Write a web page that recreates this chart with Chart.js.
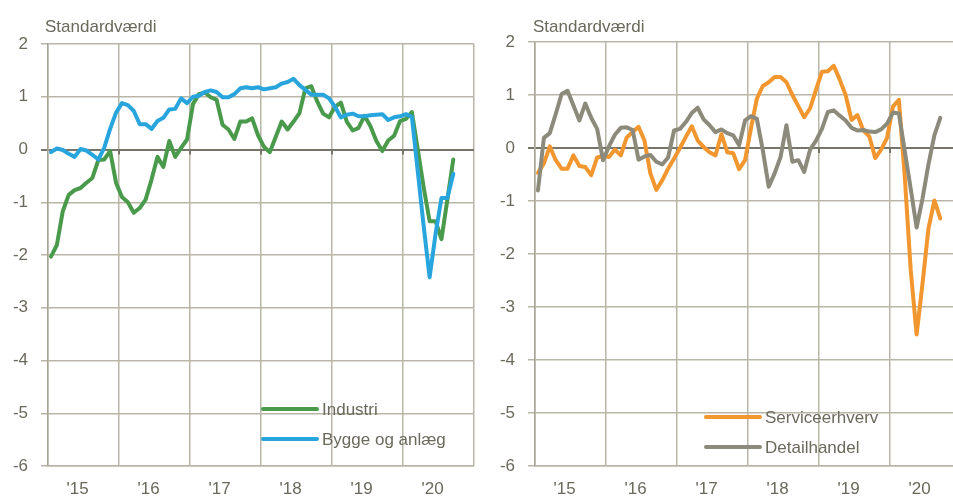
<!DOCTYPE html>
<html>
<head>
<meta charset="utf-8">
<script src="https://cdn.jsdelivr.net/npm/chart.js@4"></script>
<style>
  html, body { margin: 0; padding: 0; background: #fff; overflow: hidden; width: 953px; height: 501px; }
  #left { position: absolute; left: 0; top: 0; }
  #right { position: absolute; left: 487px; top: 0; }
</style>
</head>
<body>
<canvas id="left" width="476" height="501"></canvas>
<canvas id="right" width="490" height="501"></canvas>
<script>
// monthly categories, Sep 2014 onwards (72 slots, last 3 empty)
const startYear = 2014;
const startMonth = 9;
const months = [];
for (let i = 0; i < 72; i++) {
  const m = (startMonth - 1 + i) % 12 + 1;
  const y = startYear + Math.floor((startMonth - 1 + i) / 12);
  months.push(y + "-" + String(m).padStart(2, "0"));
}
const yearLabels = ["'15", "'16", "'17", "'18", "'19", "'20"];
const yTicks = [2, 1, 0, -1, -2, -3, -4, -5, -6];

const industri = [-2.03, -1.81, -1.17, -0.86, -0.77, -0.73, -0.63, -0.54, -0.2, -0.19, -0.03, -0.63,
  -0.9, -1.0, -1.2, -1.11, -0.95, -0.57, -0.14, -0.33, 0.16, -0.14, 0.03, 0.19,
  0.86, 1.05, 1.08, 0.99, 0.94, 0.47, 0.38, 0.2, 0.53, 0.53, 0.59, 0.27,
  0.05, -0.05, 0.24, 0.53, 0.38, 0.53, 0.69, 1.16, 1.2, 0.91, 0.68, 0.61,
  0.81, 0.89, 0.53, 0.36, 0.41, 0.64, 0.44, 0.16, -0.03, 0.17, 0.26, 0.54,
  0.58, 0.71, 0.0, -0.72, -1.36, -1.36, -1.7, -0.95, -0.19];

const byggeAnlaeg = [-0.05, 0.02, -0.01, -0.08, -0.14, 0.01, -0.02, -0.1, -0.19, 0.03, 0.39, 0.7,
  0.88, 0.84, 0.73, 0.48, 0.48, 0.39, 0.54, 0.6, 0.76, 0.77, 0.97, 0.88,
  1.0, 1.02, 1.09, 1.12, 1.09, 0.99, 0.99, 1.05, 1.16, 1.18, 1.16, 1.18,
  1.14, 1.16, 1.18, 1.25, 1.28, 1.34, 1.22, 1.13, 1.04, 1.04, 1.04, 0.97,
  0.81, 0.61, 0.66, 0.68, 0.63, 0.63, 0.65, 0.66, 0.67, 0.56, 0.61, 0.63,
  0.67, 0.62, -0.42, -1.46, -2.42, -1.6, -0.92, -0.92, -0.46];

const service = [-0.47, -0.29, 0.03, -0.23, -0.39, -0.39, -0.14, -0.34, -0.36, -0.51, -0.18, -0.15,
  -0.17, -0.03, -0.14, 0.2, 0.3, 0.4, 0.14, -0.48, -0.79, -0.61, -0.39, -0.2,
  0.0, 0.21, 0.41, 0.14, 0.02, -0.08, -0.14, 0.26, -0.08, -0.1, -0.4, -0.23,
  0.37, 0.93, 1.17, 1.24, 1.34, 1.34, 1.24, 1.0, 0.79, 0.58, 0.75, 1.1,
  1.44, 1.45, 1.55, 1.29, 1.0, 0.53, 0.62, 0.33, 0.22, -0.19, -0.03, 0.19,
  0.78, 0.91, -0.55, -2.3, -3.52, -2.55, -1.52, -0.99, -1.33];

const detail = [-0.8, 0.19, 0.28, 0.64, 1.02, 1.08, 0.8, 0.52, 0.84, 0.57, 0.36, -0.23,
  0.03, 0.25, 0.38, 0.39, 0.34, -0.22, -0.16, -0.13, -0.26, -0.31, -0.18, 0.33,
  0.36, 0.49, 0.66, 0.76, 0.54, 0.43, 0.3, 0.35, 0.28, 0.24, 0.05, 0.52,
  0.6, 0.55, -0.04, -0.73, -0.48, -0.17, 0.43, -0.26, -0.23, -0.45, -0.03, 0.14,
  0.36, 0.68, 0.71, 0.61, 0.52, 0.38, 0.33, 0.34, 0.31, 0.3, 0.35, 0.46,
  0.67, 0.65, -0.06, -0.77, -1.5, -0.95, -0.31, 0.24, 0.57];

const textColor = "#6b695c";
const gridColor = "#b9b6a7";
const zeroColor = "#77746a";
const fontFamily = "'Liberation Sans', Arial, sans-serif";

// title + legend drawn at fixed spots, like the original
const panelText = {
  id: "panelText",
  afterDraw(chart, args, opts) {
    const ctx = chart.ctx;
    ctx.save();
    ctx.font = "17px " + fontFamily;
    ctx.fillStyle = textColor;
    ctx.textBaseline = "alphabetic";
    ctx.fillText("Standardværdi", opts.titleX, 32);
    ctx.textBaseline = "middle";
    opts.items.forEach((it) => {
      ctx.strokeStyle = it.color;
      ctx.lineWidth = 4;
      ctx.lineCap = "round";
      ctx.beginPath();
      ctx.moveTo(opts.lineX, it.y);
      ctx.lineTo(opts.lineX + 54, it.y);
      ctx.stroke();
      ctx.fillStyle = textColor;
      ctx.fillText(it.label, opts.lineX + 59, it.y + 1);
    });
    ctx.restore();
  },
};

// small marks under the zero line at each year gridline
const zeroTicks = {
  id: "zeroTicks",
  beforeDatasetsDraw(chart) {
    const x = chart.scales.x;
    const y0 = chart.scales.y.getPixelForValue(0);
    const ctx = chart.ctx;
    ctx.save();
    ctx.strokeStyle = zeroColor;
    ctx.lineWidth = 2;
    for (let i = 1; i < 6; i++) {
      const px = x.getPixelForValue(12 * i - 0.5);
      ctx.beginPath();
      ctx.moveTo(px, y0);
      ctx.lineTo(px, y0 + 5);
      ctx.stroke();
    }
    ctx.restore();
  },
};

function makeChart(id, sets, padTop, padRight, textOpts) {
  const ctx = document.getElementById(id).getContext("2d");
  return new Chart(ctx, {
    type: "line",
    data: {
      labels: months,
      datasets: sets.map((s) => ({
        label: s.label,
        data: s.data,
        borderColor: s.color,
        borderWidth: 4,
        borderJoinStyle: "round",
        borderCapStyle: "round",
        pointRadius: 0,
        tension: 0,
        fill: false,
        order: s.order,
      })),
    },
    options: {
      responsive: false,
      animation: false,
      layout: { padding: { top: padTop, right: padRight, left: 0, bottom: 0 } },
      plugins: {
        legend: { display: false },
        tooltip: { enabled: false },
        panelText: textOpts,
      },
      scales: {
        x: {
          type: "category",
          offset: true,
          afterFit: (s) => {
            s.height = 35;
            s.paddingLeft = 0;
            s.paddingRight = 0;
          },
          border: { display: true, color: gridColor, width: 1.5 },
          grid: {
            offset: true,
            drawTicks: false,
            lineWidth: 1.5,
            color: (c) => (c.type !== "tick" || c.index % 12 === 0 ? gridColor : "rgba(0,0,0,0)"),
          },
          ticks: {
            autoSkip: false,
            maxRotation: 0,
            padding: 13,
            labelOffset: 3,
            color: textColor,
            font: { family: fontFamily, size: 17 },
            callback: function (val, index) {
              const m = months[index];
              if (m.slice(5) !== "01") return "";
              return yearLabels[Number(m.slice(0, 4)) - 2015];
            },
          },
        },
        y: {
          min: -6,
          max: 2,
          afterFit: (s) => { s.width = 48; },
          afterBuildTicks: (s) => { s.ticks = yTicks.map((v) => ({ value: v })); },
          border: { display: true, color: "#a8a596", width: 1.5 },
          grid: {
            tickLength: 7,
            lineWidth: (c) => (c.tick && c.tick.value === 0 ? 2 : 1.5),
            color: (c) => (c.tick && c.tick.value === 0 ? zeroColor : gridColor),
          },
          ticks: {
            padding: 13,
            color: textColor,
            font: { family: fontFamily, size: 17 },
            callback: (v) => String(v),
          },
        },
      },
    },
    plugins: [zeroTicks, panelText],
  });
}

document.addEventListener("DOMContentLoaded", function () {
  makeChart("left", [
    { label: "Industri", data: industri, color: "#4a9a4b", order: 2 },
    { label: "Bygge og anlæg", data: byggeAnlaeg, color: "#29a5de", order: 1 },
  ], 44, 2, {
    titleX: 45,
    lineX: 263,
    items: [
      { label: "Industri", color: "#4a9a4b", y: 409 },
      { label: "Bygge og anlæg", color: "#29a5de", y: 439 },
    ],
  });

  makeChart("right", [
    { label: "Serviceerhverv", data: service, color: "#f2962f", order: 2 },
    { label: "Detailhandel", data: detail, color: "#8c8a7a", order: 1 },
  ], 42, 16, {
    titleX: 46,
    lineX: 219,
    items: [
      { label: "Serviceerhverv", color: "#f2962f", y: 417 },
      { label: "Detailhandel", color: "#8c8a7a", y: 447 },
    ],
  });
});
</script>
</body>
</html>
